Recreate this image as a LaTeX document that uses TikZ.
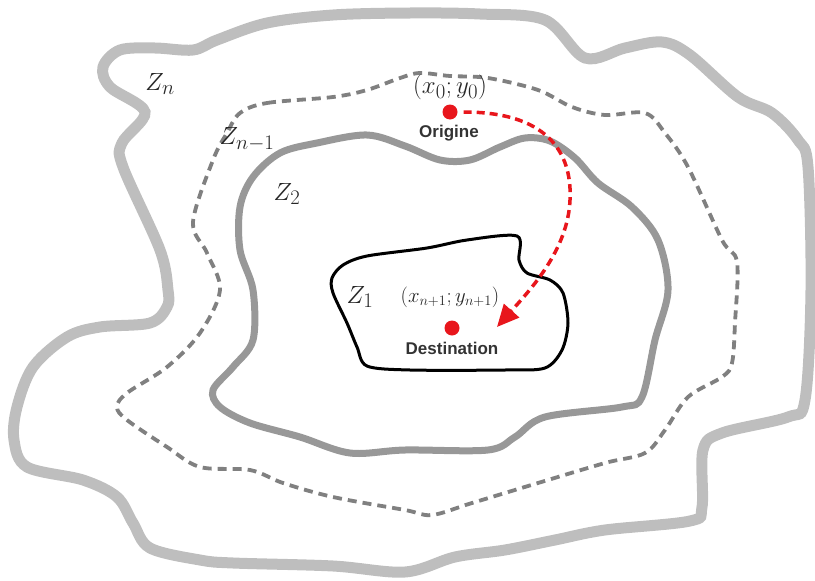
\documentclass[tikz,border=0pt]{standalone}
\usepackage{fontspec}
\setsansfont{Liberation Sans}
\usetikzlibrary{arrows.meta}
\definecolor{zoneLight}{RGB}{190, 190, 190}
\definecolor{zoneDash}{RGB}{128, 128, 128}
\definecolor{zoneMid}{RGB}{152, 152, 152}
\definecolor{routeRed}{RGB}{232, 22, 28}

\begin{document}
\begin{tikzpicture}[x=1pt, y=-1pt,
    lbl/.style={font=\Huge, text=black!85, inner sep=0pt},
    place/.style={font=\sffamily\bfseries\fontsize{17}{20}\selectfont, text=black!80, inner sep=0pt},
    dot/.style={circle, fill=routeRed, minimum size=15pt, inner sep=0pt}]
      \useasboundingbox (0,0) rectangle (815,581);
      \draw[zoneLight, line width=11pt] plot[smooth cycle, tension=0.55] coordinates {
        (120,50) (155,48) (193,50) (217,40) (267,23) (333,15) (410,13) (480,14) (545,20)
        (585,58) (625,48) (662,42) (690,55) (738,97) (772,113) (798,140) (808,167)
        (811,290) (805,400) (788,417) (722,433) (703,450) (702,507) (690,521) (605,530)
        (555,540) (505,550) (455,557) (405,572) (333,566) (233,563) (200,560) (150,548)
        (133,523) (117,497) (83,480) (27,467) (14,440) (17,407) (33,367) (67,337) (100,327)
        (150,323) (167,307) (168,290) (160,250) (123,167) (122,143) (145,112) (110,87) (103,67)};
      \draw[zoneDash, line width=3.8pt, dash pattern=on 9pt off 6pt] plot[smooth cycle, tension=0.55] coordinates {
        (240,113) (267,103) (333,97) (367,90) (400,78) (420,73) (450,76) (488,78) (538,90)
        (572,107) (605,115) (645,113) (665,133) (688,167) (722,240) (737,262) (735,323)
        (732,363) (722,377) (688,397) (665,430) (645,453) (605,463) (538,483) (472,503)
        (432,515) (405,510) (333,497) (283,483) (250,470) (200,467) (167,447) (127,420)
        (117,407) (127,393) (167,367) (200,333) (220,290) (207,253) (193,222) (213,160) (227,133)};
      \draw[zoneMid, line width=7pt] plot[smooth cycle, tension=0.55] coordinates {
        (253,177) (280,153) (317,143) (367,135) (405,146) (440,160) (470,160) (500,147)
        (525,138) (550,141) (575,158) (598,183) (632,207) (658,240) (668,290) (655,340)
        (642,397) (622,407) (545,417) (515,437) (488,450) (405,450) (350,453) (300,437)
        (250,423) (220,407) (213,390) (233,367) (253,340) (253,290) (240,250) (240,207)};
      \draw[black, line width=3pt] plot[smooth cycle, tension=0.5] coordinates {
        (343,265) (367,256) (427,248) (467,240) (517,236) (519,260) (527,273) (550,280)
        (563,293) (568,323) (562,350) (545,368) (505,370) (410,370) (367,366) (357,347)
        (347,323) (333,293) (332,278)};
      \node[lbl] (zn) at (160,84) {$Z_n$};
      \node[lbl] (znm) at (247,139) {$Z_{n-1}$};
      \node[lbl] (ztwo) at (287,194) {$Z_2$};
      \node[lbl] (zone) at (360,297) {$Z_1$};
      \node[lbl] (start) at (450,87) {$(x_0;y_0)$};
      \node[dot] (orig) at (450,112) {};
      \node[place] (origtxt) at (449,133) {Origine};
      \node[lbl, font=\huge] (end) at (450,297) {$(x_{n+1};y_{n+1})$};
      \node[dot] (dest) at (452,328) {};
      \node[place] (desttxt) at (452,348) {Destination};
      \coordinate (tip) at (497,327);
      \draw[routeRed, line width=3.5pt, dash pattern=on 8pt off 5pt,
        -{Triangle[length=22pt, width=20pt]}]
        ([xshift=6pt]orig.east) .. controls (555,112) and (572,160) .. (570,200)
        .. controls (568,250) and (530,290) .. (tip);
\end{tikzpicture}
\end{document}
